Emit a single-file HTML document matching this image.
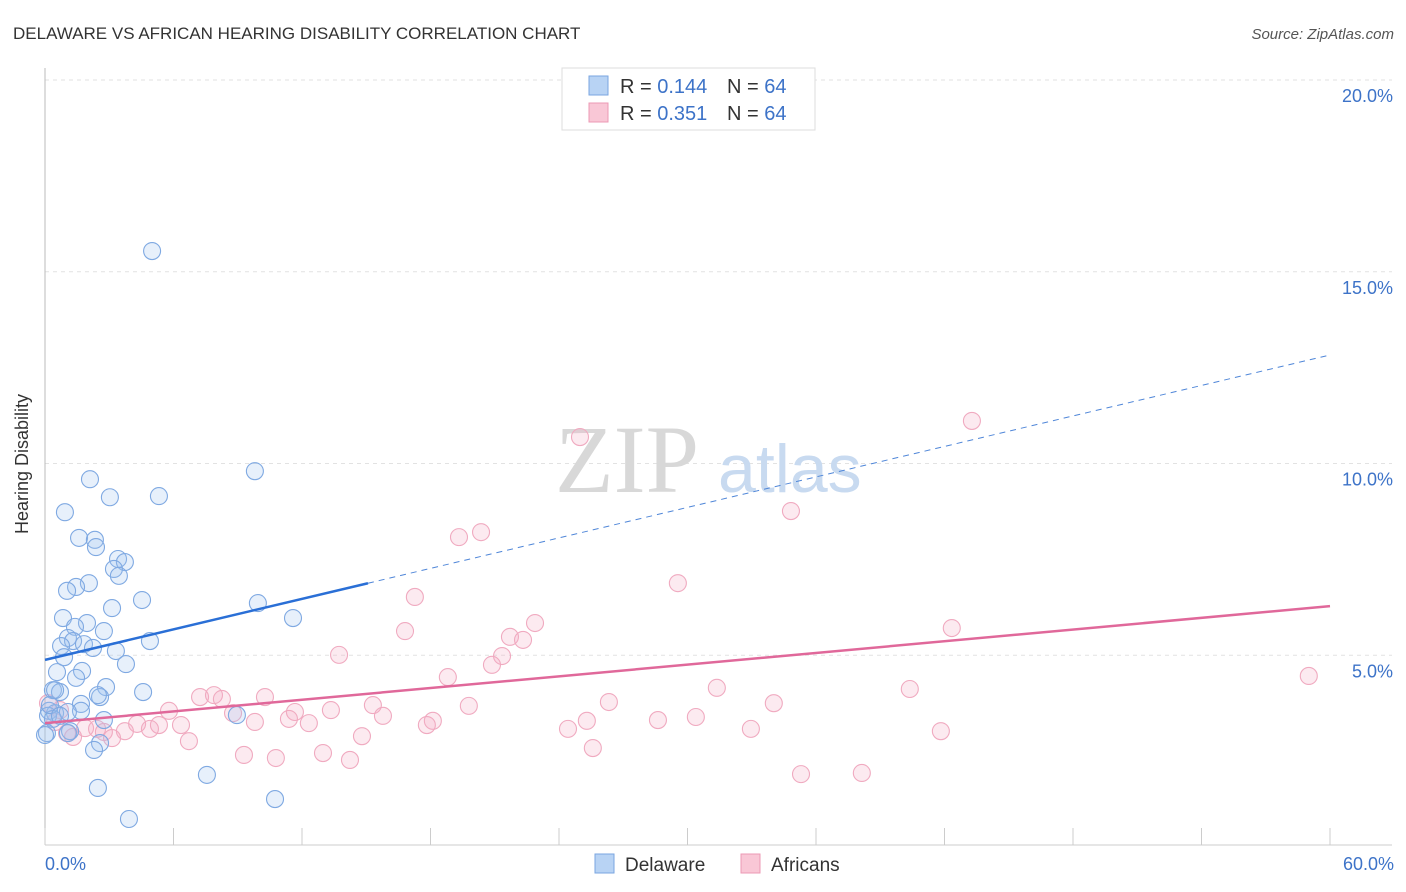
<!DOCTYPE html>
<html><head><meta charset="utf-8">
<style>
body{margin:0;background:#fff;font-family:"Liberation Sans",sans-serif;}
#wrap{position:relative;width:1406px;height:892px;overflow:hidden;}
</style></head>
<body>
<div id="wrap">
<svg id="svg" width="1406" height="892" xmlns="http://www.w3.org/2000/svg">
  <text x="13" y="39" font-size="17" fill="#333">DELAWARE VS AFRICAN HEARING DISABILITY CORRELATION CHART</text>
  <text x="1394" y="39" font-size="15" fill="#555" font-style="italic" text-anchor="end">Source: ZipAtlas.com</text>
  <g id="grid"></g>
  <text x="555" y="492" font-family="Liberation Serif" font-size="96" fill="#d8d8d8">ZIP</text>
  <text x="718" y="492" font-size="68" fill="#c8daf0">atlas</text>
  <line x1="45" y1="68" x2="45" y2="845" stroke="#bbb" stroke-width="1"/>
  <line x1="45" y1="845" x2="1392" y2="845" stroke="#ccc" stroke-width="1"/>
  <g id="xticks"></g>
  <g id="pts"></g>
  <g id="trends"></g>
  <text x="20" y="456" font-size="18" fill="#333" text-anchor="middle" transform="rotate(-90 28 456)">Hearing Disability</text>
  <text x="45" y="870" font-size="18" fill="#3d73c8">0.0%</text>
  <text x="1394" y="870" font-size="18" fill="#3d73c8" text-anchor="end">60.0%</text>
  <g>
    <rect x="562" y="68" width="253" height="62" fill="#fff" stroke="#ddd"/>
    <rect x="589" y="76" width="19" height="19" fill="#b8d3f4" stroke="#7aa6e0"/>
    <rect x="589" y="103" width="19" height="19" fill="#f9c7d6" stroke="#ec9ab4"/>
    <text x="620" y="93" font-size="20" fill="#333">R = <tspan fill="#3d73c8">0.144</tspan></text>
    <text x="727" y="93" font-size="20" fill="#333">N = <tspan fill="#3d73c8">64</tspan></text>
    <text x="620" y="120" font-size="20" fill="#333">R = <tspan fill="#3d73c8">0.351</tspan></text>
    <text x="727" y="120" font-size="20" fill="#333">N = <tspan fill="#3d73c8">64</tspan></text>
  </g>
  <g>
    <rect x="595" y="854" width="19" height="19" fill="#b8d3f4" stroke="#7aa6e0"/>
    <text x="625" y="871" font-size="19" fill="#333">Delaware</text>
    <rect x="741" y="854" width="19" height="19" fill="#f9c7d6" stroke="#ec9ab4"/>
    <text x="771" y="871" font-size="19" fill="#333">Africans</text>
  </g>
</svg>
</div>
<script>
const yTicks=[5,10,15,20];
const yTickLabels=["5.0%","10.0%","15.0%","20.0%"];
const xTickVals=[0,6,12,18,24,30,36,42,48,54,60];
const blueX=[5.00,9.80,2.10,5.32,3.03,0.93,1.59,2.33,2.38,3.41,3.73,3.22,3.45,2.05,1.45,1.03,4.53,3.13,9.94,0.84,11.58,1.96,1.40,2.75,1.07,1.31,0.75,1.82,2.24,3.31,4.90,0.89,3.78,1.73,0.56,1.45,0.37,0.70,2.85,4.58,2.57,2.47,1.68,0.19,1.68,0.47,1.07,0.14,0.37,2.75,8.96,1.17,0.09,2.57,2.29,7.56,2.47,10.74,3.92,0.23,0.70,0.00,0.47,1.07];
const blueY=[15.54,9.80,9.59,9.15,9.12,8.73,8.06,8.01,7.82,7.51,7.43,7.25,7.07,6.88,6.78,6.68,6.44,6.23,6.36,5.97,5.97,5.84,5.74,5.63,5.45,5.37,5.24,5.29,5.19,5.11,5.37,4.95,4.77,4.59,4.56,4.41,4.09,4.04,4.17,4.04,3.91,3.96,3.73,3.55,3.55,3.49,3.52,3.42,3.34,3.31,3.44,3.02,2.97,2.71,2.53,1.88,1.54,1.25,0.73,3.70,3.42,2.92,4.09,2.97];
const pinkX=[43.28,24.98,34.83,20.36,19.33,29.55,17.27,22.88,42.34,16.81,21.71,22.32,13.73,21.34,20.87,18.81,31.37,40.38,7.24,7.89,8.26,10.27,26.33,34.03,5.79,8.78,15.31,19.79,13.35,11.67,15.78,30.39,28.62,11.39,25.30,18.11,9.80,12.32,6.35,17.83,4.30,5.32,3.73,4.90,24.42,32.96,41.83,1.87,2.43,2.75,14.80,3.13,6.72,1.31,1.03,0.47,25.58,12.98,9.29,10.78,14.24,35.30,38.14,59.01,0.70,0.14];
const pinkY=[11.11,10.69,8.76,8.21,8.08,6.88,6.52,5.84,5.71,5.63,5.48,5.40,5.01,4.98,4.75,4.43,4.15,4.12,3.91,3.96,3.86,3.91,3.78,3.75,3.55,3.49,3.70,3.68,3.57,3.52,3.42,3.39,3.31,3.34,3.29,3.29,3.26,3.23,3.18,3.18,3.21,3.18,3.02,3.08,3.08,3.08,3.02,3.10,3.08,3.00,2.89,2.84,2.76,2.87,2.97,3.26,2.58,2.45,2.40,2.32,2.27,1.90,1.93,4.46,3.57,3.75];
const blueTrend=[4.88,12.83];
const blueSolidEnd=15.08;
const pinkTrend=[3.23,6.28];

const NS="http://www.w3.org/2000/svg";
function sx(v){return 45+v*(1285/60);}
function sy(v){return 847-v*38.35;}
function mk(tag,attrs,parent){const e=document.createElementNS(NS,tag);for(const k in attrs)e.setAttribute(k,attrs[k]);parent.appendChild(e);return e;}
const grid=document.getElementById('grid');
yTicks.forEach((t,i)=>{
  const l=mk('line',{x1:45,x2:1392,y1:sy(t),y2:sy(t),stroke:'#e2e2e2','stroke-dasharray':'4,4'},grid);
  
  
  const tx=mk('text',{x:1393,y:sy(t)+22,'font-size':18,fill:'#3d73c8','text-anchor':'end'},grid);
  tx.textContent=yTickLabels[i];
  
  
});
const xt=document.getElementById('xticks');
xTickVals.forEach(v=>{
  const l=mk('line',{x1:sx(v),x2:sx(v),y1:828,y2:845,stroke:'#ccc'},xt);
  
  
});
const pts=document.getElementById('pts');
pinkX.forEach((x,i)=>{
  const c=mk('circle',{cx:sx(x),cy:sy(pinkY[i]),r:8.5,fill:'rgba(244,170,195,0.25)',stroke:'#f0aac0','stroke-width':1.1},pts);
  
  
});
blueX.forEach((x,i)=>{
  const c=mk('circle',{cx:sx(x),cy:sy(blueY[i]),r:8.5,fill:'rgba(160,195,240,0.25)',stroke:'#7fa9e2','stroke-width':1.1},pts);
  
  
});
const tr=document.getElementById('trends');
function ty(t,x){return t[0]+(t[1]-t[0])*x/60;}
const b1=mk('line',{x1:sx(0),y1:sy(ty(blueTrend,0)),x2:sx(blueSolidEnd),y2:sy(ty(blueTrend,blueSolidEnd)),stroke:'#2a6fd6','stroke-width':2.5},tr);


const b2=mk('line',{x1:sx(blueSolidEnd),y1:sy(ty(blueTrend,blueSolidEnd)),x2:sx(60),y2:sy(ty(blueTrend,60)),stroke:'#4f86d8','stroke-width':1,'stroke-dasharray':'6,5'},tr);


const p1=mk('line',{x1:sx(0),y1:sy(ty(pinkTrend,0)),x2:sx(60),y2:sy(ty(pinkTrend,60)),stroke:'#e0689a','stroke-width':2.5},tr);


</script>
</body></html>
